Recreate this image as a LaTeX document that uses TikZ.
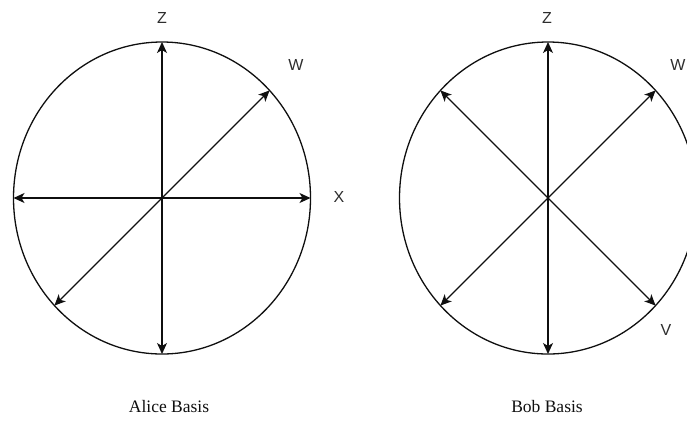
\documentclass[tikz,border=0pt]{standalone}
\usepackage{fontspec}
\setmainfont{Liberation Serif}
\newfontfamily\axisfont{Liberation Sans}
\usetikzlibrary{shapes.geometric, arrows.meta}
\definecolor{mydark}{RGB}{15,15,15}
\definecolor{mygray}{RGB}{45,45,45}
\tikzset{
  basis/.style={draw=mydark, line width=1.3pt, ellipse, minimum width=297pt, minimum height=312pt, inner sep=0pt, outer sep=0pt},
  arrow/.style={draw=mydark, line width=1.3pt, {Stealth[length=11pt,width=10pt,inset=3pt]}-{Stealth[length=11pt,width=10pt,inset=3pt]}},
  axis/.style={text=mygray, font=\axisfont\fontsize{16}{16}\selectfont, inner sep=0pt},
  caption/.style={text=mydark, font=\fontsize{17.5}{17.5}\selectfont, inner sep=0pt}
}

\begin{document}
\begin{tikzpicture}[x=1pt, y=-1pt]
  \useasboundingbox (0,0) rectangle (687,421);

  % Alice (left)
  \node [basis] (alice) at (162,198) {};
  \draw [arrow] (alice.south) -- (alice.north);
  \draw [arrow] (alice.west) -- (alice.east);
  \draw [arrow] (alice.-135) -- (alice.45);
  \node [axis] (az) at (162,18) {Z};
  \node [axis] (aw) at (296,65) {W};
  \node [axis] (ax) at (339,197) {X};
  \node [caption] (alicecap) at (169,407) {Alice Basis};

  % Bob (right)
  \node [basis] (bob) at (548,198) {};
  \draw [arrow] (bob.south) -- (bob.north);
  \draw [arrow] (bob.-135) -- (bob.45);
  \draw [arrow] (bob.135) -- (bob.-45);
  \node [axis] (bz) at (547,18) {Z};
  \node [axis] (bw) at (678,65) {W};
  \node [axis] (bv) at (666,330) {V};
  \node [caption] (bobcap) at (547,407) {Bob Basis};
\end{tikzpicture}
\end{document}
